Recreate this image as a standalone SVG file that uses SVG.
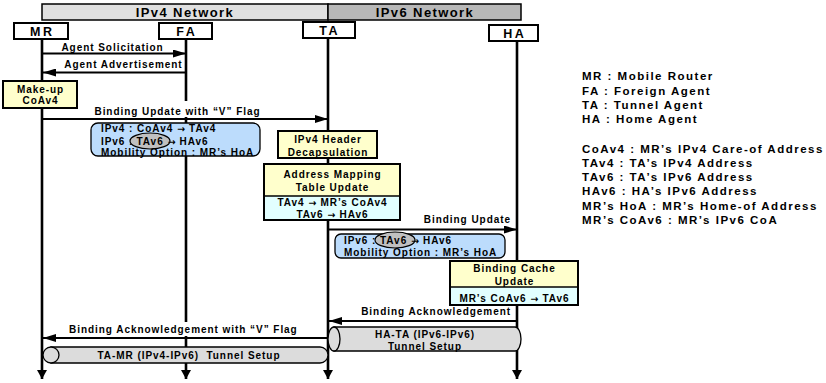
<svg xmlns="http://www.w3.org/2000/svg" width="826" height="383" viewBox="0 0 826 383">
<style>
  text { font-family: "Liberation Sans", Arial, sans-serif; font-weight: bold; fill: #000; }
  .lbl { font-size: 10px; letter-spacing: 0.95px; }
  .arr { font-family: "DejaVu Sans", sans-serif; font-size: 9.5px; letter-spacing: 0.5px; }
  .mid { text-anchor: middle; }
  .end { text-anchor: end; }
  .node { font-size: 12.5px; letter-spacing: 2.5px; text-anchor: middle; }
  .net { font-size: 13px; letter-spacing: 1.4px; text-anchor: middle; }
  .leg { font-size: 11.5px; letter-spacing: 1.5px; }
  .box { stroke: #000; stroke-width: 2; }
  .yel { fill: #ffffcc; }
  .cyan { fill: #e2ffff; }
  .blue { fill: #bcdcfc; stroke: #000; stroke-width: 1.3; }
  .oval { fill: #c0c0c0; stroke: #000; stroke-width: 1.2; }
  .life { stroke: #000; stroke-width: 2.6; fill: none; }
  .msg { stroke: #000; stroke-width: 2; fill: none; }
  .cyl { fill: #dcdcdc; stroke: #000; stroke-width: 1.3; }
</style>
<defs>
  <marker id="ah" markerUnits="userSpaceOnUse" markerWidth="13" markerHeight="8" refX="13" refY="4" orient="auto">
    <path d="M0,0 L13,4 L0,8 Z" fill="#000"/>
  </marker>
  <marker id="dn" markerUnits="userSpaceOnUse" markerWidth="9" markerHeight="10" refX="9" refY="5" orient="auto">
    <path d="M0,0 L9,5 L0,10 Z" fill="#000"/>
  </marker>
</defs>

<!-- network headers -->
<g id="ipv4-network">
  <rect x="42" y="4" width="286" height="16" fill="#e0e0e0" stroke="#000" stroke-width="1.5"/>
  <text class="net" x="185" y="16.5">IPv4 Network</text>
</g>
<g id="ipv6-network">
  <rect x="328" y="4" width="193" height="16" fill="#b8b8b8" stroke="#000" stroke-width="1.5"/>
  <text class="net" x="425" y="16.5">IPv6 Network</text>
</g>

<!-- lifelines -->
<g id="lifelines">
  <line class="life" x1="42" y1="39" x2="42" y2="379" marker-end="url(#dn)"/>
  <line class="life" x1="186" y1="39" x2="186" y2="379" marker-end="url(#dn)"/>
  <line class="life" x1="328" y1="38" x2="328" y2="379" marker-end="url(#dn)"/>
  <line class="life" x1="517" y1="41" x2="517" y2="379" marker-end="url(#dn)"/>
</g>

<!-- nodes -->
<g id="node-MR">
  <rect class="box" x="14" y="23" width="54" height="16" fill="#fff"/>
  <text class="node" x="42.2" y="35.8">MR</text>
</g>
<g id="node-FA">
  <rect class="box" x="159" y="23" width="53" height="16" fill="#fff"/>
  <text class="node" x="186.7" y="35.8">FA</text>
</g>
<g id="node-TA">
  <rect class="box" x="303" y="22" width="52" height="16" fill="#fff"/>
  <text class="node" x="329.7" y="34.8">TA</text>
</g>
<g id="node-HA">
  <rect class="box" x="489" y="25" width="49" height="16" fill="#fff"/>
  <text class="node" x="514.7" y="37.8">HA</text>
</g>

<!-- connectors -->
<g id="connectors">
  <line class="msg" x1="42" y1="53.5" x2="186" y2="53.5" marker-end="url(#ah)"/>
  <text class="lbl mid" x="112.5" y="51">Agent Solicitation</text>

  <line class="msg" x1="186" y1="72.5" x2="43" y2="72.5" marker-end="url(#ah)"/>
  <text class="lbl mid" x="123.5" y="68">Agent Advertisement</text>

  <rect x="92" y="101" width="170" height="16" fill="#fff"/>
  <line class="msg" x1="42" y1="119" x2="328" y2="119" marker-end="url(#ah)"/>
  <text class="lbl mid" x="177.5" y="115">Binding Update with “V” Flag</text>

  <line class="msg" x1="328" y1="229.5" x2="517" y2="229.5" marker-end="url(#ah)"/>
  <text class="lbl end" x="511" y="223">Binding Update</text>

  <line class="msg" x1="517" y1="321" x2="329" y2="321" marker-end="url(#ah)"/>
  <text class="lbl end" x="511" y="315">Binding Acknowledgement</text>

  <rect x="66" y="322" width="238" height="14" fill="#fff"/>
  <line class="msg" x1="328" y1="338" x2="43" y2="338" marker-end="url(#ah)"/>
  <text class="lbl" x="69" y="333">Binding Acknowledgement with “V” Flag</text>
</g>

<!-- process boxes -->
<g id="makeup-coav4">
  <rect class="box yel" x="3" y="81" width="74" height="27"/>
  <text class="lbl mid" x="40.5" y="92.5">Make-up</text>
  <text class="lbl mid" x="40.5" y="104">CoAv4</text>
</g>

<g id="bu-packet-ipv4">
  <rect class="blue" x="91" y="123" width="169" height="33" rx="7"/>
  <text class="lbl" x="101" y="132">IPv4 : CoAv4 <tspan class="arr">→</tspan> TAv4</text>
  <text class="lbl" x="101" y="144.5">IPv6 :</text>
  <ellipse class="oval" cx="150" cy="141" rx="20" ry="8"/>
  <text class="lbl" x="136.5" y="144.5">TAv6 <tspan class="arr">→</tspan> HAv6</text>
  <text class="lbl" x="101" y="156">Mobility Option : MR’s HoA</text>
</g>

<g id="ipv4-decap">
  <rect class="box yel" x="278" y="131" width="99" height="27"/>
  <text class="lbl mid" x="328" y="143">IPv4 Header</text>
  <text class="lbl mid" x="328" y="155.5">Decapsulation</text>
</g>

<g id="address-mapping">
  <rect class="yel" x="264" y="164" width="136" height="32"/>
  <rect class="cyan" x="264" y="196" width="136" height="24"/>
  <rect x="264" y="164" width="136" height="56" fill="none" stroke="#000" stroke-width="2"/>
  <line x1="264" y1="196" x2="400" y2="196" stroke="#000" stroke-width="1.3"/>
  <text class="lbl mid" x="332.5" y="178">Address Mapping</text>
  <text class="lbl mid" x="332.5" y="190.5">Table Update</text>
  <text class="lbl mid" x="332.5" y="205.5">TAv4 <tspan class="arr">→</tspan> MR’s CoAv4</text>
  <text class="lbl mid" x="332.5" y="218">TAv6 <tspan class="arr">→</tspan> HAv6</text>
</g>

<g id="bu-packet-ipv6">
  <rect class="blue" x="335" y="234" width="170" height="24" rx="6"/>
  <text class="lbl" x="344" y="244">IPv6 :</text>
  <ellipse class="oval" cx="395" cy="240" rx="20" ry="8"/>
  <text class="lbl" x="380" y="244">TAv6 <tspan class="arr">→</tspan> HAv6</text>
  <text class="lbl" x="344" y="256">Mobility Option : MR’s HoA</text>
</g>

<g id="binding-cache">
  <rect class="yel" x="450" y="261" width="128" height="26"/>
  <rect class="cyan" x="450" y="287" width="128" height="18"/>
  <rect x="450" y="261" width="128" height="44" fill="none" stroke="#000" stroke-width="2"/>
  <line x1="450" y1="287" x2="578" y2="287" stroke="#000" stroke-width="1.3"/>
  <text class="lbl mid" x="514.5" y="272">Binding Cache</text>
  <text class="lbl mid" x="514.5" y="284.5">Update</text>
  <text class="lbl mid" x="514.5" y="302">MR’s CoAv6 <tspan class="arr">→</tspan> TAv6</text>
</g>

<!-- tunnels -->
<g id="tunnel-ha-ta">
  <path class="cyl" d="M334,327 H515 A6,12 0 0 1 515,351 H334 Z"/>
  <ellipse class="cyl" cx="334" cy="339" rx="6" ry="12"/>
  <text class="lbl mid" x="425" y="338">HA-TA (IPv6-IPv6)</text>
  <text class="lbl mid" x="425" y="349.5">Tunnel Setup</text>
</g>
<g id="tunnel-ta-mr">
  <path class="cyl" d="M51,347 H320 A8,8 0 0 1 320,363 H51 Z"/>
  <ellipse class="cyl" cx="51" cy="355" rx="8" ry="8" fill="#e6e6e6"/>
  <text class="lbl mid" x="189" y="359" xml:space="preserve">TA-MR (IPv4-IPv6)  Tunnel Setup</text>
</g>

<!-- legend -->
<g id="legend">
  <text class="leg" x="582" y="80">MR : Mobile Router</text>
  <text class="leg" x="582" y="94.5">FA : Foreign Agent</text>
  <text class="leg" x="582" y="108.5">TA : Tunnel Agent</text>
  <text class="leg" x="582" y="123">HA : Home Agent</text>
  <text class="leg" x="582" y="153">CoAv4 : MR’s IPv4 Care-of Address</text>
  <text class="leg" x="582" y="167">TAv4 : TA’s IPv4 Address</text>
  <text class="leg" x="582" y="181">TAv6 : TA’s IPv6 Address</text>
  <text class="leg" x="582" y="195">HAv6 : HA’s IPv6 Address</text>
  <text class="leg" x="582" y="209.5">MR’s HoA : MR’s Home-of Address</text>
  <text class="leg" x="582" y="223.5">MR’s CoAv6 : MR’s IPv6 CoA</text>
</g>
</svg>
